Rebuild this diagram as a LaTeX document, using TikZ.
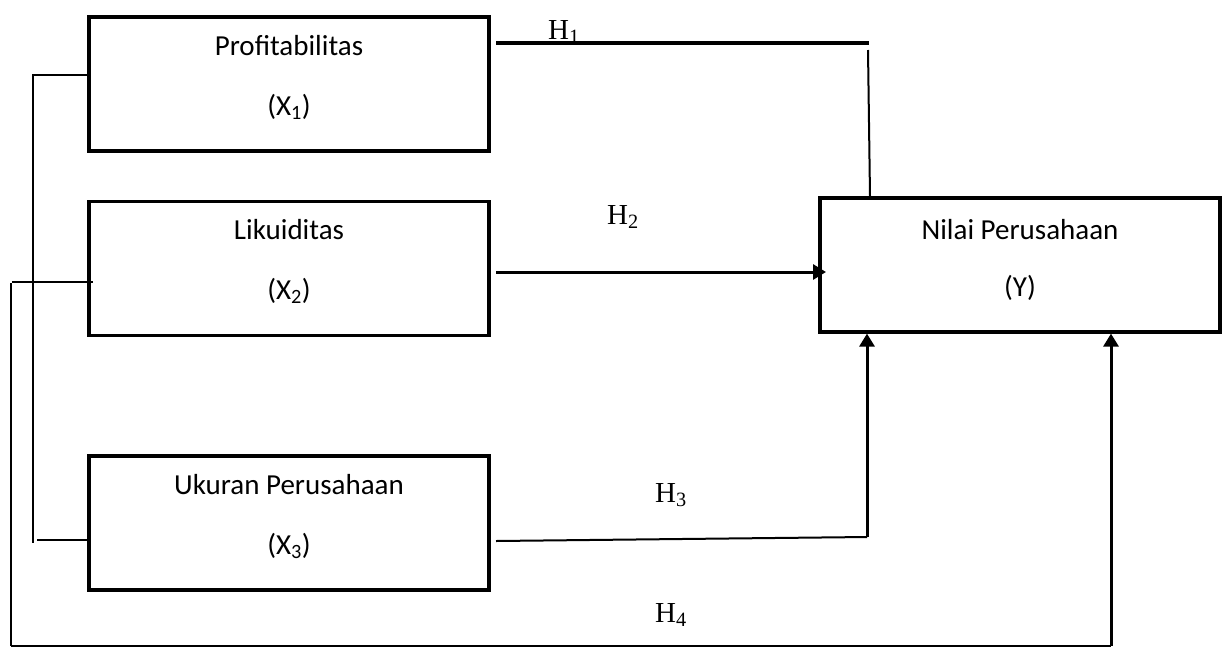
\documentclass[tikz,border=0pt]{standalone}
\usepackage{fontspec}
\setmainfont{Carlito}
\newfontfamily\hfont{Liberation Serif}
\usetikzlibrary{arrows.meta}
\begin{document}
\begin{tikzpicture}[x=1pt,y=-1pt,
  varbox/.style={draw,line width=3.2pt,minimum width=400pt,minimum height=134pt,inner sep=0pt},
  boxtext/.style={font=\fontsize{29}{34}\selectfont,anchor=base,inner sep=0pt},
  hlabel/.style={font=\hfont\fontsize{29}{34}\selectfont,anchor=base west,inner sep=0pt},
  thinline/.style={line width=1.6pt},
  arrowline/.style={line width=3pt,-{Triangle[length=13pt,width=15pt]}}]
\useasboundingbox (0,0) rectangle (1231,646);

% variable boxes
\node[varbox] (x1) at (289,84) {};
\node[varbox] (x2) at (289,268.5) {};
\node[varbox] (x3) at (289,523) {};
\node[varbox] (y)  at (1020,265) {};

% box texts
\node[boxtext] (t1a) at (289,55) {Profitabilitas};
\node[boxtext] (t1b) at (289,115) {(X\textsubscript{1})};
\node[boxtext] (t2a) at (289,239) {Likuiditas};
\node[boxtext] (t2b) at (289,299) {(X\textsubscript{2})};
\node[boxtext] (t3a) at (289,494) {Ukuran Perusahaan};
\node[boxtext] (t3b) at (289,554) {(X\textsubscript{3})};
\node[boxtext] (tya) at (1020,239) {Nilai Perusahaan};
\node[boxtext] (tyb) at (1020,296) {(Y)};

% hypothesis labels
\node[hlabel] (h1) at (548,39) {H\textsubscript{1}};
\node[hlabel] (h2) at (607,224) {H\textsubscript{2}};
\node[hlabel] (h3) at (655,502) {H\textsubscript{3}};
\node[hlabel] (h4) at (655,622) {H\textsubscript{4}};

% connector points
\coordinate (h1s) at (496,43);
\coordinate (h1e) at (869,43);
\coordinate (h1d) at (868,50);
\coordinate (h2s) at (496,272);
\coordinate (h2e) at (826,272);
\coordinate (h3s) at (496,541);
\coordinate (h3c) at (867,537);
\coordinate (h4c) at (1111,646);
\coordinate (b1t) at (33,75);
\coordinate (b1b) at (33,543);
\coordinate (b1l) at (37,540);
\coordinate (b2t) at (11,283);
\coordinate (b2l) at (12,282);
\coordinate (b2r) at (93,282);
\coordinate (b2b) at (11,646);
\coordinate (h4s) at (11,646);

% H1
\draw[line width=4.2pt] (h1s) -- (h1e);
\draw[line width=2pt] (h1d) -- (y.north west -| 870,0);
% H2
\draw[arrowline] (h2s) -- (h2e);
% H3
\draw[line width=2pt] (h3s) -- (h3c);
\draw[arrowline] (h3c) -- (y.south -| h3c);
% H4
\draw[thinline] (h4s) -- (h4c);
\draw[arrowline] (h4c) -- (y.south -| h4c);

% brackets on the left
\draw[thinline] (x1.west |- b1t) -- (b1t) -- (b1b);
\draw[thinline] (b1l) -- (x3.west |- b1l);
\draw[thinline] (b2b) -- (b2t);
\draw[thinline] (b2l) -- (b2r);
\end{tikzpicture}
\end{document}
